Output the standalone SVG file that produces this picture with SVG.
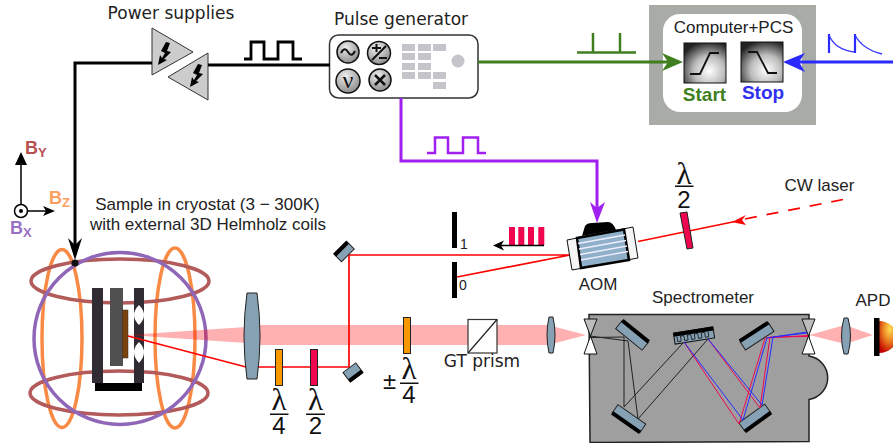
<svg xmlns="http://www.w3.org/2000/svg" width="893" height="443" viewBox="0 0 893 443">
<defs>
<radialGradient id="g" cx="0.6" cy="0.7" r="0.75"><stop offset="0" stop-color="#fff"/><stop offset="0.5" stop-color="#bbb"/><stop offset="1" stop-color="#222"/></radialGradient>
<radialGradient id="k" cx="0.4" cy="0.3" r="0.75"><stop offset="0" stop-color="#eee"/><stop offset="1" stop-color="#888"/></radialGradient>
<radialGradient id="apdg" cx="0.6" cy="0.25" r="0.8"><stop offset="0" stop-color="#ffe050"/><stop offset="0.5" stop-color="#e87a20"/><stop offset="1" stop-color="#c00000"/></radialGradient>
</defs>
<style>
text{font-family:"Liberation Sans",sans-serif;fill:#222}
.d{font-family:"DejaVu Sans",sans-serif;font-size:17px}
.l{font-size:17px}
.b{font-weight:bold}
.lam{font-family:"Liberation Serif",serif;font-size:31px;fill:#111}
.num{font-family:"Liberation Sans",sans-serif;font-size:24px;fill:#111}
.blue{fill:#86a0b4;stroke:#222;stroke-width:1}
.grey{fill:#c4c4ca}
.ps{fill:#ccc;stroke:#333;stroke-width:1}
.kn{fill:url(#k);stroke:#111;stroke-width:1.5}
.ray{fill:none;stroke-width:1}
.bar{fill:#111}
.wh{fill:#fff;stroke:#111;stroke-width:1}
</style>
<g id="coils" fill="none" stroke-width="3.5">
<ellipse cx="62" cy="338.500" rx="20" ry="89" stroke="#f98a45"/>
<ellipse cx="175" cy="338" rx="20" ry="90" stroke="#f98a45"/>
<ellipse cx="120" cy="281" rx="89" ry="22" stroke="#b35a5a"/>
<ellipse cx="119" cy="393" rx="89" ry="22" stroke="#b35a5a"/>
<circle cx="120" cy="338.500" r="86" stroke="#8f66b8"/>
</g>
<g id="sample">
<rect x="92" y="288" width="11" height="95" fill="#312c33"/>
<rect x="110" y="288" width="13" height="78" fill="#505050"/>
<rect x="134" y="288" width="10" height="95" fill="#312c33"/>
<path d="M139 305Q129 315 139 325Q149 315 139 305ZM139 342Q129 352 139 363Q149 352 139 342Z" fill="#fff"/>
<rect x="122.500" y="310" width="5.500" height="48" fill="#7a420a" stroke="#333" stroke-width="0.500"/>
<rect x="95" y="383" width="47" height="8" fill="#000"/>
</g>
<g id="beam" fill="#f00" fill-opacity="0.31">
<polygon points="128,335 246,327 246,343"/>
<polygon points="246,325 548,325 586,335 548,345 246,345"/>
<polygon points="809,335 845,325 873,335 845,344"/>
</g>
<g id="red-beam" fill="none" stroke="#f00" stroke-width="1.700">
<path d="M128 336L246 367H349V255H570L457 277"/>
<path d="M638 241.500L735 221.500"/>
<path d="M745 219L843 199.500" stroke-dasharray="12 10"/>
</g>
<polygon id="laser-arrow" points="732,222 746,215 742,220 746,225" fill="#f00"/>
<g id="axes">
<path d="M21 211V160M21 211H48" stroke="#000" stroke-width="1.500" fill="none"/>
<polygon points="21,152 15,165 27,165" fill="#000"/>
<polygon points="55,211 43,206 46,211 43,216" fill="#000"/>
<circle cx="21" cy="211" r="6.500" fill="#fff" stroke="#000" stroke-width="1.500"/>
<circle cx="21" cy="211" r="2" fill="#000"/>
<text x="25" y="154" class="b" font-size="18" style="fill:#b85050">B<tspan font-size="13" dy="3">Y</tspan></text>
<text x="49" y="204" class="b" font-size="18" style="fill:#fca060">B<tspan font-size="13" dy="3">Z</tspan></text>
<text x="10" y="234" class="b" font-size="18" style="fill:#9a70c4">B<tspan font-size="13" dy="3">X</tspan></text>
</g>
<text x="207.500" y="210" text-anchor="middle" class="l">Sample in cryostat (3 − 300K)</text>
<text x="208" y="230" text-anchor="middle" class="l">with external 3D Helmholz coils</text>
<g id="power-supplies">
<text x="171" y="19" text-anchor="middle" class="d">Power supplies</text>
<polygon class="ps" points="152,28 193,52 152,75"/>
<polygon class="ps" points="208,53 168,77 208,100"/>
<path d="M166 42L170 43L167 51L171 52L164 59L167 60L158 65L160 55L162 58L165 53L161 51Z" fill="#000"/>
<path d="M166 42L170 43L167 51L171 52L164 59L167 60L158 65L160 55L162 58L165 53L161 51Z" fill="#000" transform="translate(32 22)"/>
</g>
<g id="pulse-generator">
<text x="401" y="25" text-anchor="middle" class="d">Pulse generator</text>
<rect x="329.500" y="35" width="148.500" height="63" rx="9" fill="#fff" stroke="#333" stroke-width="1.500"/>
<circle class="kn" cx="348" cy="52" r="11"/>
<circle class="kn" cx="379" cy="53" r="11.500"/>
<circle class="kn" cx="348" cy="81" r="12"/>
<circle class="kn" cx="380" cy="80" r="11"/>
<path d="M341 53Q344.500 46 348 52T355 51" fill="none" stroke="#111" stroke-width="2"/>
<path d="M372 60L386 46M372 48H381M376.500 44V52M379 58H387" fill="none" stroke="#111" stroke-width="2"/>
<text x="348" y="88" text-anchor="middle" class="lam" style="font-size:24px">ν</text>
<path d="M375 75L385 85M385 75L375 85" stroke="#111" stroke-width="2.500"/>
<g class="grey">
<rect x="402" y="44" width="13" height="7"/><rect x="418" y="44" width="13" height="7"/><rect x="433" y="44" width="13" height="7"/>
<rect x="402" y="53" width="13" height="7"/><rect x="418" y="53" width="13" height="7"/>
<rect x="402" y="63" width="13" height="7"/><rect x="418" y="63" width="13" height="7"/>
<rect x="402" y="72" width="13" height="7"/><rect x="418" y="72" width="13" height="7"/><rect x="433" y="72" width="13" height="7"/>
<rect x="433" y="82" width="13" height="7"/>
<circle cx="458" cy="61" r="6.500"/>
</g>
</g>
<g id="computer">
<rect x="649" y="5" width="167" height="120" fill="#a8aba6"/>
<rect x="663" y="14" width="139" height="98" rx="17" fill="#fff"/>
<text x="733.500" y="33" text-anchor="middle" class="l">Computer+PCS</text>
<rect x="684" y="43" width="42" height="40" fill="url(#g)" stroke="#111"/>
<rect x="741" y="42" width="42" height="40" fill="url(#g)" stroke="#111"/>
<path d="M690 74H700L710 53H719" fill="none" stroke="#111" stroke-width="1.800"/>
<path d="M748 52H757L768 73H777" fill="none" stroke="#111" stroke-width="1.800"/>
<text x="704.500" y="101" text-anchor="middle" font-size="19" class="b" style="fill:#3f7f1f">Start</text>
<text x="763" y="99" text-anchor="middle" font-size="19" class="b" style="fill:#3030f0">Stop</text>
</g>
<g id="aom">
<polygon points="567,240 633,227 638,258 572,270" fill="#f5f5f5" stroke="#111"/>
<polygon points="577,238 624,229.500 629,260 581,268" fill="#8fb0c8" stroke="#000" stroke-width="2.500"/>
<path d="M578 243.500L625 235M579 249L626 240.500M580 254.500L627 246M581 260L628 251.500" stroke="#eef" stroke-width="1.300"/>
<path d="M582 236L585 226Q587 223 592 223L608 222Q613 222 616 230Z" fill="#000"/>
<text x="598" y="290" text-anchor="middle" class="l">AOM</text>
</g>
<g id="half-wave-aom">
<polygon points="680,213 687,212 693,248 687,249" fill="#f0064f" stroke="#222"/>
<rect x="675" y="185.500" width="18.500" height="1.500" class="bar"/>
<text text-anchor="middle"><tspan x="684" y="184" class="lam">λ</tspan><tspan x="684" y="208" class="num">2</tspan></text>
</g>
<text x="819.500" y="191" text-anchor="middle" class="l">CW laser</text>
<g id="pinholes">
<rect x="452" y="212" width="5" height="36" fill="#000"/>
<rect x="452" y="262" width="5" height="36" fill="#000"/>
<text x="460" y="249" font-size="14">1</text>
<text x="459" y="290" font-size="14">0</text>
<rect x="509" y="227" width="6" height="18" fill="#f0064f"/><rect x="518.300" y="227" width="6" height="18" fill="#f0064f"/><rect x="528" y="227" width="6" height="18" fill="#f0064f"/><rect x="538.300" y="227" width="6" height="18" fill="#f0064f"/>
<path d="M544 245.500H500" stroke="#000" stroke-width="1.500"/>
<polygon points="493,245.500 504,240.500 501,245.500 504,250.500" fill="#000"/>
</g>
<g id="mirror-top"><g transform="rotate(-45 344 251.500)"><rect x="335" y="246" width="18" height="11" class="blue"/><rect x="335" y="245.500" width="18" height="4" fill="#000"/></g></g>
<g id="mirror-bottom"><g transform="rotate(-37 353 372.500)"><rect x="345" y="366.500" width="16" height="12" class="blue"/><rect x="345" y="375" width="16" height="4" fill="#000"/></g></g>
<g id="lens-main"><path d="M247 293H257Q263 336 257 379H247Q241 336 247 293Z" class="blue"/></g>
<g id="qwp1">
<rect x="275.500" y="349.500" width="7" height="36" fill="#f89800" stroke="#222"/>
<rect x="270" y="413.500" width="18.500" height="1.500" class="bar"/>
<text text-anchor="middle"><tspan x="279" y="410" class="lam">λ</tspan><tspan x="279" y="434" class="num">4</tspan></text>
</g>
<g id="hwp2">
<rect x="310.500" y="349.500" width="7" height="36" fill="#f0064f" stroke="#222"/>
<rect x="306" y="413.500" width="19" height="1.500" class="bar"/>
<text text-anchor="middle"><tspan x="315.500" y="410" class="lam">λ</tspan><tspan x="315.500" y="434" class="num">2</tspan></text>
</g>
<g id="qwp3">
<rect x="403.500" y="317.500" width="7" height="36" fill="#f89800" stroke="#222"/>
<rect x="400" y="382.500" width="18.500" height="1.500" class="bar"/>
<text font-size="24" style="fill:#111"><tspan x="383" y="389">±</tspan><tspan x="409" y="379" text-anchor="middle" class="lam">λ</tspan><tspan x="409" y="403" text-anchor="middle" class="num">4</tspan></text>
</g>
<g id="gt-prism">
<rect x="468" y="319.500" width="29" height="33.500" fill="#fff" stroke="#333" stroke-width="1.200"/>
<path d="M468 353L497 319.500" stroke="#222" stroke-width="1.200"/>
<text x="482" y="367" text-anchor="middle" class="d">GT prism</text>
</g>
<g id="lens-2"><path d="M549 317H553Q557 335 553 353H549Q545 335 549 317Z" class="blue"/></g>
<g id="spectrometer">
<text x="703" y="303" text-anchor="middle" class="l">Spectrometer</text>
<path d="M589 314.500H809V356A22 22 0 0 1 809 399.500V441.500L590 442.500Z" fill="#9f9f9f" stroke="#222" stroke-width="1.500"/>
<path d="M584 319H597L590.500 336ZM802 319H815L808.500 336Z" fill="#bdbdbd" stroke="#111"/>
<path d="M590.500 336L597 354H584ZM808.500 336L815 354H802Z" class="wh"/>
<g transform="rotate(39 632 335.500)"><rect x="615" y="330.500" width="34" height="10" class="blue"/><rect x="615" y="328" width="34" height="4" fill="#000"/></g>
<g transform="rotate(35 629 418.500)"><rect x="612" y="413.500" width="34" height="10" class="blue"/><rect x="612" y="421.500" width="34" height="4" fill="#000"/></g>
<g transform="rotate(-33 757 336.500)"><rect x="740" y="331.500" width="34" height="10" class="blue"/><rect x="740" y="329" width="34" height="4" fill="#000"/></g>
<g transform="rotate(-36 755 418)"><rect x="739" y="412.500" width="32" height="11" class="blue"/><rect x="739" y="421" width="32" height="4" fill="#000"/></g>
<g transform="rotate(-9 694 335.500)"><rect x="674" y="330" width="40" height="11" fill="#86a0b4" stroke="#111"/><rect x="674" y="329.500" width="40" height="4" fill="#000"/><path d="M677 334v5h3.500v-5h3.500v5h3.500v-5h3.500v5h3.500v-5h3.500v5h3.500v-5h3.500v5h3.500v-5" fill="none" stroke="#111" stroke-width="0.800"/></g>
<g class="ray" stroke="#222">
<path d="M590 336L628 341L638 419L708 339M590 337.500L624 337V407L683 343"/>
</g>
<g class="ray" stroke="#f0064f">
<path d="M684 342L739 424L765 338L808 335.500M708 339L760 408L770 337L808 336.500"/>
</g>
<g class="ray" stroke="#2a2aff">
<path d="M684 342L743 420L767 338L807 332M708 339L762 405L773 337L807 333"/>
</g>
</g>
<g id="lens-3"><path d="M844 318H848Q853 336 848 354H844Q839 336 844 318Z" class="blue"/></g>
<g id="apd">
<text x="873" y="306" text-anchor="middle" class="l">APD</text>
<path d="M879 321A18 16 0 0 1 879 353Z" fill="url(#apdg)"/>
<rect x="874" y="318" width="5.500" height="38" fill="#000"/>
</g>
<g id="connectors" fill="none">
<path d="M330 65H208M152 63H75V248" stroke="#000" stroke-width="3"/>
<polygon points="75,260 68,238 75,245 82,238" fill="#000"/>
<circle cx="75" cy="263" r="3.500" fill="#111"/>
<path d="M244 59H251V42H264V59H278V42H293V59H302" stroke="#000" stroke-width="2.800"/>
<path d="M478 62H670" stroke="#3f7f1f" stroke-width="3"/>
<polygon points="683,62 662,53 668,62 662,71" fill="#3f7f1f"/>
<path d="M577 52.500H636M593 52.500V33M620 52.500V33" stroke="#3f7f1f" stroke-width="2.500"/>
<path d="M893 62H796" stroke="#2a2aff" stroke-width="3"/>
<polygon points="783,62 805,53 799,62 805,72" fill="#2a2aff"/>
<path d="M829 53V34M855 53V34" stroke="#2a2aff" stroke-width="2.200"/>
<path d="M829 35Q835 50 855 52M855 35Q862 49 882 54" stroke="#3a3aff" stroke-width="1.300"/>
<path d="M401 98V161H597V212" stroke="#a020f0" stroke-width="3"/>
<polygon points="597,223 590,202 597,208 605,202" fill="#a020f0"/>
<path d="M427 153H435V137.500H448V153H463V137.500H478V153H486" stroke="#a020f0" stroke-width="2.500"/>
</g>
</svg>
